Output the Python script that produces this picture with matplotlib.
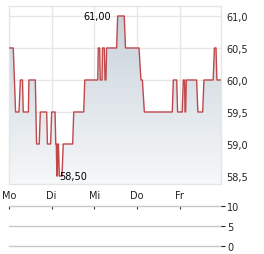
import numpy as np
import matplotlib
matplotlib.use("Agg")
import matplotlib.pyplot as plt
from matplotlib.colors import LinearSegmentedColormap

# Price series: hours since Monday open, price in EUR
hours = [0.0, 2.4, 3.7, 5.6, 6.4, 7.6, 8.0, 10.9, 11.2, 14.8,
         15.5, 17.0, 17.6, 21.2, 21.6, 23.4, 24.0, 25.9, 26.3, 26.6,
         26.9, 27.2, 27.5, 27.8, 28.3, 29.8, 30.5, 35.8, 36.4, 42.0,
         42.6, 49.9, 50.2, 51.0, 51.3, 52.3, 52.6, 53.6, 54.0, 54.5,
         54.9, 60.5, 61.1, 64.8, 65.5, 73.1, 74.2, 75.0, 76.1, 91.8,
         92.4, 94.3, 94.8, 97.4, 98.0, 98.7, 99.0, 99.3, 99.7, 105.5,
         106.2, 108.9, 109.6, 114.8, 115.5, 116.4, 116.9, 119.2]
prices = [60.5, 60.5, 59.5, 59.5, 60.0, 60.0, 59.5, 59.5, 60.0, 60.0,
          59.0, 59.0, 59.5, 59.5, 59.0, 59.0, 59.5, 59.5, 59.0, 59.0,
          58.5, 58.5, 59.0, 59.0, 58.5, 58.5, 59.0, 59.0, 59.5, 59.5,
          60.0, 60.0, 60.5, 60.5, 60.0, 60.0, 60.5, 60.5, 60.0, 60.0,
          60.5, 60.5, 61.0, 61.0, 60.5, 60.5, 60.0, 60.0, 59.5, 59.5,
          60.0, 60.0, 59.5, 59.5, 60.0, 60.0, 59.5, 59.5, 60.0, 60.0,
          59.5, 59.5, 60.0, 60.0, 60.5, 60.5, 60.0, 60.0]

day_hours = [0, 24, 48, 72, 96]
day_labels = ["Mo", "Di", "Mi", "Do", "Fr"]
price_ticks = [58.5, 59.0, 59.5, 60.0, 60.5, 61.0]
price_ticklabels = ["58,5", "59,0", "59,5", "60,0", "60,5", "61,0"]
volume_ticks = [0, 5, 10]
volume_ticklabels = ["0", "5", "10"]
max_label = "61,00"
min_label = "58,50"

line_color = "#c0474a"
grid_color = "#e6e6e6"
text_color = "#222222"

fig = plt.figure(figsize=(2.64, 2.55), dpi=100)
ax = fig.add_axes([9 / 264, 1 - 185 / 255, 212 / 264, 178 / 255])
vax = fig.add_axes([9 / 264, 1 - 247 / 255, 212 / 264, 40 / 255])

x_max = hours[-1]
y_lo, y_hi = 58.375, 61.156

# gradient fill under the line
fill = ax.fill_between(hours, prices, y_lo, color="none", lw=0)
cmap = LinearSegmentedColormap.from_list("fade", ["#f6f8f9", "#c8d2db"])
grad = np.linspace(0, 1, 256).reshape(-1, 1)
img = ax.imshow(grad, cmap=cmap, aspect="auto", origin="lower",
                extent=[0, x_max, y_lo, 61.0], zorder=1)
img.set_clip_path(fill.get_paths()[0], transform=ax.transData)

ax.plot(hours, prices, color=line_color, lw=1.0, zorder=3)

ax.set_xlim(0, x_max)
ax.set_ylim(y_lo, y_hi)
ax.set_xticks(day_hours)
ax.set_xticklabels(day_labels)
ax.set_yticks(price_ticks)
ax.set_yticklabels(price_ticklabels)
ax.yaxis.tick_right()
ax.tick_params(axis="both", length=0, labelsize=7, colors=text_color)
ax.tick_params(axis="x", pad=4)
ax.tick_params(axis="y", pad=4)
ax.grid(True, color=grid_color, lw=1.0, zorder=0)
ax.set_axisbelow(True)
for s in ax.spines.values():
    s.set_color(grid_color)
    s.set_linewidth(1.0)

# high / low annotations
i_max = int(np.argmax(prices))
i_min = int(np.argmin(prices))
ax.text(hours[i_max] - 3.5, prices[i_max], max_label, ha="right", va="center",
        fontsize=7, color="black", zorder=4)
ax.text(hours[i_min] + 1.5, prices[i_min], min_label, ha="left", va="center",
        fontsize=7, color="black", zorder=4)

# empty volume panel
vax.set_xlim(0, x_max)
vax.set_ylim(0, 10)
vax.set_yticks(volume_ticks)
vax.set_yticklabels(volume_ticklabels)
vax.yaxis.tick_right()
vax.set_xticks(day_hours)
vax.tick_params(axis="x", top=True, bottom=False, labeltop=False,
                labelbottom=False, direction="in", length=2.5, width=0.8,
                colors="#333333")
vax.tick_params(axis="y", length=3, width=0.8, labelsize=7, pad=1.5,
                colors=text_color)
vax.grid(True, axis="y", color="#c8c8c8", lw=1.0)
for gl in vax.get_ygridlines():
    gl.set_clip_on(False)
for s in vax.spines.values():
    s.set_visible(False)
vax.patch.set_alpha(0)

fig.savefig("out.png", dpi=100)
